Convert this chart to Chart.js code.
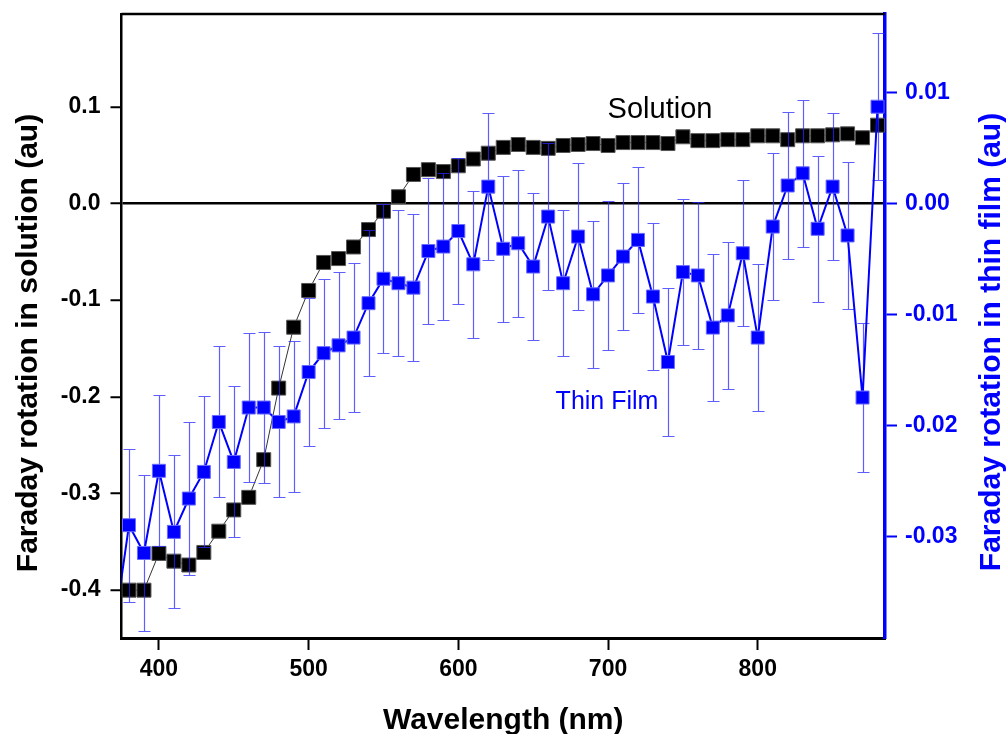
<!DOCTYPE html>
<html>
<head>
<meta charset="utf-8">
<script src="https://cdn.jsdelivr.net/npm/chart.js@4.4.1/dist/chart.umd.min.js"></script>
<style>
    body { margin: 0; background: #fff; }
</style>
</head>
<body>
<canvas id="myChart" width="1006" height="734"></canvas>
<script>
/*----------------------------------------------------------------------------*/
/* Data                                                                       */
/*----------------------------------------------------------------------------*/
const solution_wavelengths = [380, 390, 400, 410, 420, 430, 440, 450, 460, 470,
    480, 490, 500, 510, 520, 530, 540, 550, 560, 570, 580, 590, 600, 610, 620,
    630, 640, 650, 660, 670, 680, 690, 700, 710, 720, 730, 740, 750, 760, 770,
    780, 790, 800, 810, 820, 830, 840, 850, 860, 870, 880];
const solution_values = [-0.400, -0.400, -0.362, -0.370, -0.374, -0.361, -0.339,
    -0.317, -0.304, -0.265, -0.191, -0.128, -0.090, -0.061, -0.057, -0.045,
    -0.027, -0.008, 0.007, 0.030, 0.035, 0.033, 0.039, 0.046, 0.052, 0.058,
    0.061, 0.058, 0.057, 0.060, 0.061, 0.062, 0.060, 0.063, 0.063, 0.063, 0.062,
    0.069, 0.065, 0.065, 0.066, 0.066, 0.070, 0.070, 0.066, 0.070, 0.070, 0.071,
    0.072, 0.068, 0.081];

const film_wavelengths = [370, 380, 390, 400, 410, 420, 430, 440, 450, 460, 470,
    480, 490, 500, 510, 520, 530, 540, 550, 560, 570, 580, 590, 600, 610, 620,
    630, 640, 650, 660, 670, 680, 690, 700, 710, 720, 730, 740, 750, 760, 770,
    780, 790, 800, 810, 820, 830, 840, 850, 860, 870, 880];
const film_values = [-0.0385, -0.0290, -0.0315, -0.0241, -0.0296, -0.0266,
    -0.0242, -0.0197, -0.0233, -0.0184, -0.0184, -0.0197, -0.0192, -0.0152,
    -0.0135, -0.0128, -0.0121, -0.0090, -0.0068, -0.0072, -0.0076, -0.0043,
    -0.0039, -0.0025, -0.0055, 0.0015, -0.0041, -0.0036, -0.0057, -0.0012,
    -0.0072, -0.0030, -0.0082, -0.0065, -0.0048, -0.0033, -0.0084, -0.0143,
    -0.0062, -0.0065, -0.0112, -0.0101, -0.0045, -0.0121, -0.0021, 0.0016,
    0.0027, -0.0023, 0.0015, -0.0029, -0.0175, 0.0087];
const film_errors = [0.0070, 0.0069, 0.0070, 0.0068, 0.0069, 0.0069, 0.0068,
    0.0068, 0.0068, 0.0067, 0.0068, 0.0068, 0.0068, 0.0067, 0.0067, 0.0066,
    0.0067, 0.0066, 0.0067, 0.0066, 0.0066, 0.0066, 0.0066, 0.0066, 0.0066,
    0.0066, 0.0066, 0.0066, 0.0066, 0.0066, 0.0066, 0.0066, 0.0066, 0.0067,
    0.0066, 0.0066, 0.0066, 0.0067, 0.0066, 0.0066, 0.0066, 0.0066, 0.0066,
    0.0066, 0.0066, 0.0066, 0.0066, 0.0066, 0.0066, 0.0066, 0.0067, 0.0066];

const x_ticks = [400, 500, 600, 700, 800];
const left_ticks = [-0.4, -0.3, -0.2, -0.1, 0.0, 0.1];
const right_ticks = [-0.03, -0.02, -0.01, 0.00, 0.01];

/*----------------------------------------------------------------------------*/
/* Helpers                                                                    */
/*----------------------------------------------------------------------------*/
const font_family = '"Liberation Sans", Arial, sans-serif';
const film_blue = '#0000ff';

function to_points(xs, ys) {
    return xs.map((x, i) => ({ x: x, y: ys[i] }));
}

// keep the plot box fixed: no extra label padding from the axes
function fix_box(size_key, size) {
    return function (scale) {
        scale[size_key] = size;
        scale.paddingTop = 0;
        scale.paddingBottom = 0;
        scale.paddingLeft = 0;
        scale.paddingRight = 0;
    };
}

// Thin film error bars, drawn just before the blue series
const error_bar_plugin = {
    id: 'errorBars',
    beforeDatasetDraw(chart, args) {
        if (args.index !== 1) {
            return;
        }
        const ctx = chart.ctx;
        const area = chart.chartArea;
        const y_scale = chart.scales.y2;

        ctx.save();
        ctx.beginPath();
        ctx.rect(area.left, area.top, area.right - area.left, area.bottom - area.top);
        ctx.clip();
        ctx.strokeStyle = 'rgba(40, 40, 255, 0.75)';
        ctx.lineWidth = 1.2;

        args.meta.data.forEach(function (pt, i) {
            const top = Math.round(y_scale.getPixelForValue(film_values[i] + film_errors[i])) + 0.5;
            const bot = Math.round(y_scale.getPixelForValue(film_values[i] - film_errors[i])) + 0.5;
            const x = Math.round(pt.x) + 0.5;
            ctx.beginPath();
            ctx.moveTo(x, top);
            ctx.lineTo(x, bot);
            ctx.moveTo(x - 6, top);
            ctx.lineTo(x + 6, top);
            ctx.moveTo(x - 6, bot);
            ctx.lineTo(x + 6, bot);
            ctx.stroke();
        });
        ctx.restore();
    }
};

// Top frame line, axis titles and the two series labels
const frame_plugin = {
    id: 'frame',
    afterDraw(chart) {
        const ctx = chart.ctx;
        const area = chart.chartArea;

        ctx.save();
        ctx.strokeStyle = '#000';
        ctx.lineWidth = 2.5;
        ctx.beginPath();
        ctx.moveTo(area.left, area.top);
        ctx.lineTo(area.right, area.top);
        ctx.stroke();

        ctx.textAlign = 'center';
        ctx.textBaseline = 'alphabetic';
        ctx.font = 'bold 30px ' + font_family;

        ctx.fillStyle = '#000';
        ctx.fillText('Wavelength (nm)', (area.left + area.right) / 2, 729);

        ctx.save();
        ctx.translate(37, 343);
        ctx.rotate(-Math.PI / 2);
        ctx.fillText('Faraday rotation in solution (au)', 0, 0);
        ctx.restore();

        ctx.save();
        ctx.fillStyle = film_blue;
        ctx.translate(1000, 342);
        ctx.rotate(-Math.PI / 2);
        ctx.fillText('Faraday rotation in thin film (au)', 0, 0);
        ctx.restore();

        ctx.font = '29px ' + font_family;
        ctx.fillStyle = '#000';
        ctx.fillText('Solution', 660, 118);

        ctx.font = '25px ' + font_family;
        ctx.fillStyle = film_blue;
        ctx.fillText('Thin Film', 607, 409);
        ctx.restore();
    }
};

/*----------------------------------------------------------------------------*/
/* Chart                                                                      */
/*----------------------------------------------------------------------------*/
const tick_font = { family: font_family, size: 23, weight: 'bold' };

const config = {
    type: 'line',
    data: {
        datasets: [
            {
                label: 'Solution',
                data: to_points(solution_wavelengths, solution_values),
                yAxisID: 'y',
                order: 2,
                borderColor: '#333',
                borderWidth: 1,
                pointStyle: 'rect',
                pointRadius: 9.9,
                pointBackgroundColor: '#000',
                pointBorderColor: '#555',
                pointBorderWidth: 1
            },
            {
                label: 'Thin Film',
                data: to_points(film_wavelengths, film_values),
                yAxisID: 'y2',
                order: 1,
                borderColor: film_blue,
                borderWidth: 2,
                pointStyle: 'rect',
                pointRadius: 9.2,
                pointBackgroundColor: film_blue,
                pointBorderColor: '#6a6aff',
                pointBorderWidth: 1
            }
        ]
    },
    options: {
        responsive: false,
        animation: false,
        layout: { padding: { top: 14, left: 0, right: 0, bottom: 0 } },
        plugins: {
            legend: { display: false },
            tooltip: { enabled: false }
        },
        scales: {
            x: {
                type: 'linear',
                position: 'bottom',
                min: 375,
                max: 885,
                afterBuildTicks: scale => { scale.ticks = x_ticks.map(v => ({ value: v })); },
                afterFit: fix_box('height', 96),
                grid: {
                    drawOnChartArea: false,
                    tickLength: 12,
                    tickColor: '#000',
                    tickWidth: 2
                },
                border: { color: '#000', width: 3 },
                ticks: {
                    font: tick_font,
                    color: '#000',
                    padding: 6,
                    maxRotation: 0,
                    callback: v => String(v)
                }
            },
            y: {
                type: 'linear',
                position: 'left',
                min: -0.4495,
                max: 0.196,
                afterBuildTicks: scale => { scale.ticks = left_ticks.map(v => ({ value: v })); },
                afterFit: fix_box('width', 121.5),
                grid: {
                    drawOnChartArea: true,
                    color: c => (c.tick && c.tick.value === 0) ? '#000' : 'rgba(0,0,0,0)',
                    lineWidth: 2.5,
                    tickLength: 11,
                    tickColor: '#000',
                    tickWidth: 2
                },
                border: { color: '#000', width: 2.5 },
                ticks: {
                    font: tick_font,
                    color: '#000',
                    padding: 10,
                    callback: v => v.toFixed(1)
                }
            },
            y2: {
                type: 'linear',
                position: 'right',
                min: -0.03916,
                max: 0.01705,
                afterBuildTicks: scale => { scale.ticks = right_ticks.map(v => ({ value: v })); },
                afterFit: fix_box('width', 121),
                grid: {
                    drawOnChartArea: false,
                    tickLength: 12,
                    tickColor: film_blue,
                    tickWidth: 2
                },
                border: { color: film_blue, width: 3.5 },
                ticks: {
                    font: tick_font,
                    color: film_blue,
                    padding: 8,
                    callback: v => v.toFixed(2)
                }
            }
        }
    },
    plugins: [error_bar_plugin, frame_plugin]
};

const ctx = document.getElementById('myChart').getContext('2d');
const myChart = new Chart(ctx, config);
</script>
</body>
</html>
